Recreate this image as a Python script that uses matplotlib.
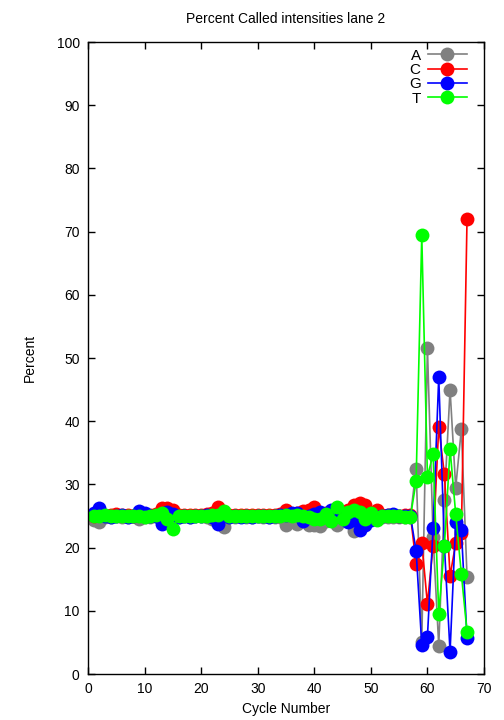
import matplotlib
matplotlib.use("Agg")
import matplotlib.pyplot as plt

plt.rcParams['font.family'] = ['Liberation Sans', 'DejaVu Sans']

cycles = list(range(1, 68))

pct_a = [24.3, 24.0, 24.8, 24.9, 25.0, 24.9, 24.9, 25.0, 24.6, 24.8,
         24.9, 25.0, 25.0, 24.9, 24.7, 24.9, 25.0, 24.9, 25.0, 25.0,
         24.8, 24.5, 24.5, 23.2, 24.8, 24.9, 25.0, 24.9, 24.9, 25.0,
         24.9, 24.8, 24.9, 24.8, 23.6, 24.5, 23.8, 24.5, 23.6, 23.5,
         23.4, 24.2, 24.3, 23.6, 24.5, 25.0, 22.7, 24.5, 25.0, 25.2,
         24.6, 24.8, 24.9, 24.8, 24.8, 24.9, 24.9, 32.5, 5.0, 51.6,
         21.7, 4.5, 27.6, 45.0, 29.5, 38.8, 15.4]

pct_c = [25.0, 25.2, 25.1, 25.2, 25.3, 25.1, 25.1, 25.0, 25.1, 25.2,
         25.1, 25.3, 26.2, 26.3, 26.0, 25.2, 25.1, 25.2, 25.1, 25.2,
         25.3, 25.4, 26.5, 25.4, 25.2, 25.1, 25.1, 25.2, 25.1, 25.1,
         25.2, 25.1, 25.2, 25.3, 26.0, 25.3, 25.4, 25.8, 26.0, 26.5,
         25.2, 25.5, 25.2, 25.4, 25.3, 26.0, 26.7, 27.0, 26.8, 24.9,
         26.0, 25.2, 25.1, 25.2, 25.0, 25.1, 25.1, 17.4, 20.8, 11.1,
         20.3, 39.1, 31.6, 15.5, 20.7, 22.3, 72.0]

pct_g = [25.5, 26.2, 25.0, 24.9, 25.0, 25.1, 24.9, 25.0, 25.8, 25.5,
         25.0, 25.0, 23.8, 25.7, 25.3, 24.9, 25.0, 24.9, 25.0, 25.0,
         25.1, 24.8, 23.8, 25.5, 24.9, 25.0, 24.9, 25.0, 24.9, 25.0,
         25.0, 24.9, 25.0, 25.1, 25.1, 25.5, 25.5, 24.2, 25.0, 25.3,
         25.6, 25.0, 26.0, 25.5, 24.8, 24.0, 24.3, 22.8, 23.5, 24.3,
         24.8, 25.0, 25.1, 25.3, 25.0, 25.0, 25.0, 19.5, 4.6, 5.9,
         23.1, 47.0, 20.3, 3.5, 24.0, 22.8, 5.7]

pct_t = [25.0, 25.0, 25.1, 25.0, 25.0, 25.0, 25.0, 25.0, 25.0, 24.9,
         25.0, 25.1, 25.4, 24.6, 23.0, 25.0, 25.0, 25.0, 25.0, 25.0,
         25.0, 25.2, 25.1, 25.8, 25.0, 25.0, 25.0, 25.0, 25.0, 25.0,
         25.0, 25.0, 25.0, 25.0, 25.1, 25.0, 25.2, 25.0, 24.8, 24.5,
         24.5, 25.3, 24.2, 26.5, 24.5, 25.6, 26.0, 25.6, 24.5, 25.4,
         24.3, 25.0, 25.0, 25.0, 25.0, 24.9, 24.9, 30.5, 69.4, 31.2,
         34.8, 9.5, 20.3, 35.6, 25.3, 15.8, 6.7]

series = [("A", pct_a, "#808080"),
          ("C", pct_c, "#ff0000"),
          ("G", pct_g, "#0000ff"),
          ("T", pct_t, "#00ff00")]

fig = plt.figure(figsize=(5.04, 7.2), dpi=100)
ax = fig.add_axes([88 / 504, 1 - 674 / 720, 396 / 504, 632 / 720])

for name, vals, col in series:
    ax.plot(cycles, vals, color=col, lw=1.2, marker="o", markersize=10,
            markeredgewidth=0, label=name)

ax.set_xlim(0, 70)
ax.set_ylim(0, 100)
ax.set_xticks(range(0, 71, 10))
ax.set_yticks(range(0, 101, 10))
ax.tick_params(direction="in", top=True, right=True, length=5, width=1,
               labelsize=10, pad=6)
for s in ax.spines.values():
    s.set_linewidth(1)

ax.set_title("Percent Called intensities lane 2", fontsize=10, pad=14)
ax.set_xlabel("Cycle Number", fontsize=10, labelpad=4)
ax.set_ylabel("Percent", fontsize=10, labelpad=14)

ax.legend(loc="upper right", bbox_to_anchor=(1 - 6 / 396, 1 + 4 / 632),
          frameon=False, markerfirst=False, fontsize=11,
          handlelength=2.6, handletextpad=0.45, labelspacing=0.02,
          borderaxespad=0.3)

fig.savefig("out.png", dpi=100)
